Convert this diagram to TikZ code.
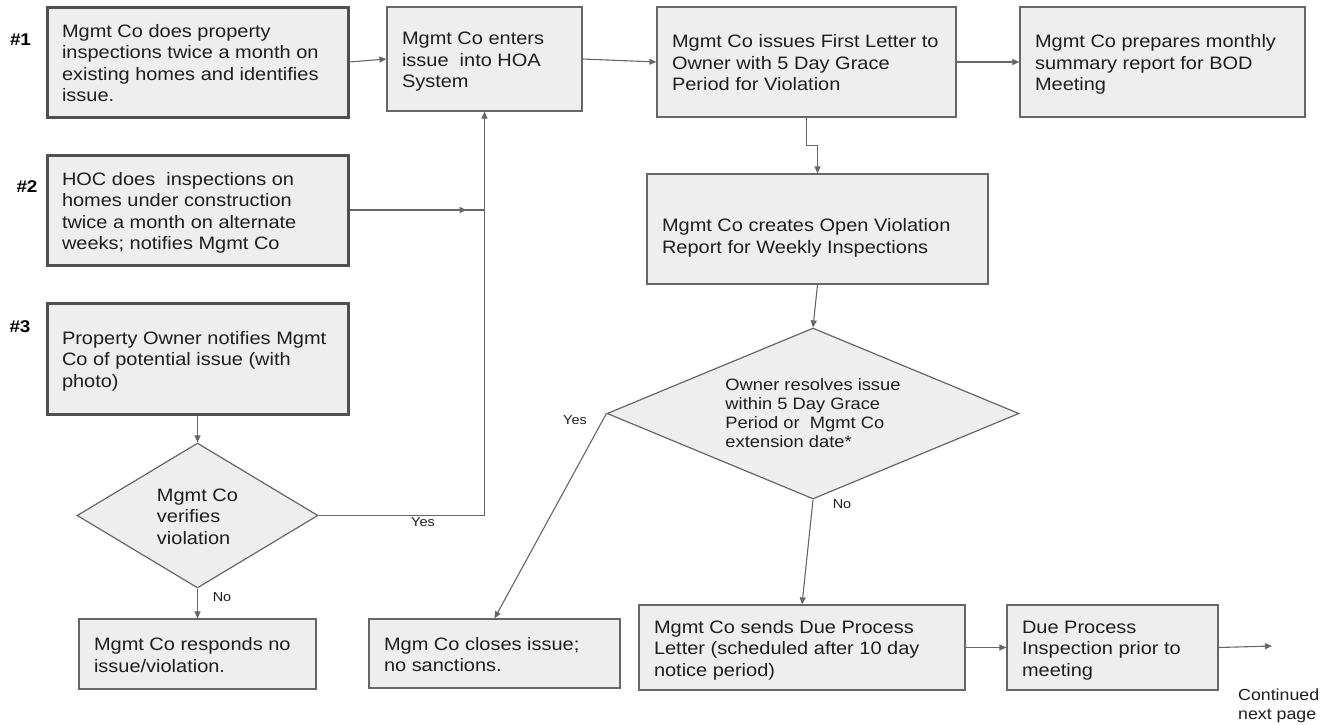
\documentclass[tikz,border=0pt]{standalone}
\usepackage{fontspec}
\setmainfont[FakeStretch=1.11]{Liberation Sans}
\usetikzlibrary{shapes.geometric,arrows.meta,calc}
\definecolor{boxfill}{RGB}{238,238,238}
\definecolor{edge}{RGB}{102,102,102}
\definecolor{thickedge}{RGB}{80,80,80}
\definecolor{txt}{RGB}{30,30,30}
\newcommand{\tb}[3][3]{\raisebox{-#1pt}[\height][\depth]{\makebox[#2pt][l]{\begin{tabular}{@{}l@{}}#3\end{tabular}}}}
\newcommand{\tl}[2][0]{\raisebox{-#1pt}[\height][\depth]{\begin{tabular}{@{}l@{}}#2\end{tabular}}}
\tikzset{
  box/.style={draw=edge, line width=1.2pt, fill=boxfill, rectangle, inner xsep=15pt, inner ysep=0pt,
    text=txt, font=\fontsize{18}{21.5}\selectfont},
  thickbox/.style={box, draw=thickedge, line width=3pt},
  decision/.style={draw=edge, line width=1.2pt, fill=boxfill, diamond, inner sep=0pt, text=txt},
  conn/.style={draw=edge, line width=1.1pt},
  arr/.style={conn, -{Triangle[length=7pt,width=6pt]}},
  lbl/.style={text=txt, font=\fontsize{13}{15}\selectfont, inner sep=0pt},
  num/.style={text=black, font=\fontsize{17}{20}\selectfont\bfseries, inner sep=0pt}
}
\begin{document}
\begin{tikzpicture}[x=1pt,y=-1pt]
\useasboundingbox (0,0) rectangle (1332,724);
% left column
\node[thickbox, minimum width=301, minimum height=110] (b1) at (197.5,62)
  {\tb{271}{Mgmt Co does property\\inspections twice a month on\\existing homes and identifies\\issue.}};
\node[thickbox, minimum width=301, minimum height=110] (b2) at (197.5,210)
  {\tb{271}{HOC does\ \ inspections on\\homes under construction\\twice a month on alternate\\weeks; notifies Mgmt Co}};
\node[thickbox, minimum width=301, minimum height=111] (b3) at (197.5,358.5)
  {\tb{271}{Property Owner notifies Mgmt\\Co of potential issue (with\\photo)}};
\node[num] (h1) at (20.5,40) {\#1};
\node[num] (h2) at (27,187) {\#2};
\node[num] (h3) at (20,327) {\#3};
\node[decision, shape aspect=1.66, minimum width=241, minimum height=145, font=\fontsize{18}{21.5}\selectfont] (d1) at (197.5,515.5)
  {\tl[3]{Mgmt Co\\verifies\\violation}};
\node[box, minimum width=237, minimum height=70] (nobox) at (197.5,654)
  {\tb{207}{Mgmt Co responds no\\issue/violation.}};
% top row
\node[box, minimum width=195, minimum height=104] (b4) at (484.5,59)
  {\tb{165}{Mgmt Co enters\\issue\ \ into HOA\\System}};
\node[box, minimum width=299, minimum height=110] (b5) at (806.5,62)
  {\tb{269}{Mgmt Co issues First Letter to\\Owner with 5 Day Grace\\Period for Violation}};
\node[box, minimum width=285, minimum height=110] (b6) at (1162.5,62)
  {\tb{255}{Mgmt Co prepares monthly\\summary report for BOD\\Meeting}};
\node[box, minimum width=341, minimum height=110] (b7) at (817.5,229)
  {\tb[9]{311}{Mgmt Co creates Open Violation\\Report for Weekly Inspections}};
\node[decision, shape aspect=2.41, minimum width=412, minimum height=171, font=\fontsize{16.5}{19}\selectfont] (d2) at (813,413.5)
  {\tl[2]{Owner resolves issue\\within 5 Day Grace\\Period or\ \ Mgmt Co\\extension date*}};
% bottom row
\node[box, minimum width=251, minimum height=69] (close) at (494.5,653.5)
  {\tb{221}{Mgm Co closes issue;\\no sanctions.}};
\node[box, minimum width=326, minimum height=85] (dpl) at (802,647.5)
  {\tb{296}{Mgmt Co sends Due Process\\Letter (scheduled after 10 day\\notice period)}};
\node[box, minimum width=211, minimum height=85] (dpi) at (1112.5,647.5)
  {\tb{181}{Due Process\\Inspection prior to\\meeting}};
\coordinate (cont) at (1272,646);
\node[anchor=west, text=txt, font=\fontsize{16}{19}\selectfont, inner sep=0pt] (contlbl) at (1238,706)
  {\tl{Continued\\next page}};
% connectors
\coordinate (j) at (b4.south |- b2.east);
\draw[arr] (b1.east) -- (b4.west);
\draw[conn] (b2.east) -- (j);
\draw[arr] (b2.east) -- ([xshift=-18pt]j);
\draw[arr] (b3.south) -- (d1.north);
\draw[arr] (d1.east) -| (b4.south);
\draw[arr] (d1.south) -- (nobox.north);
\draw[arr] (b4.east) -- (b5.west);
\draw[arr] (b5.east) -- (b6.west);
\draw[arr] (b5.south) -- ++(0,28) -| (b7.north);
\draw[arr] (b7.south) -- (d2.north);
\draw[arr] (d2.west) -- (close.north);
\draw[arr] (d2.south) -- (dpl.north);
\draw[arr] (dpl.east) -- (dpi.west);
\draw[arr] (dpi.east) -- (cont);
% labels
\node[lbl] (yes1) at (423,522) {Yes};
\node[lbl] (no1) at (222,597) {No};
\node[lbl] (yes2) at (575,420) {Yes};
\node[lbl] (no2) at (842,504) {No};
\end{tikzpicture}
\end{document}
